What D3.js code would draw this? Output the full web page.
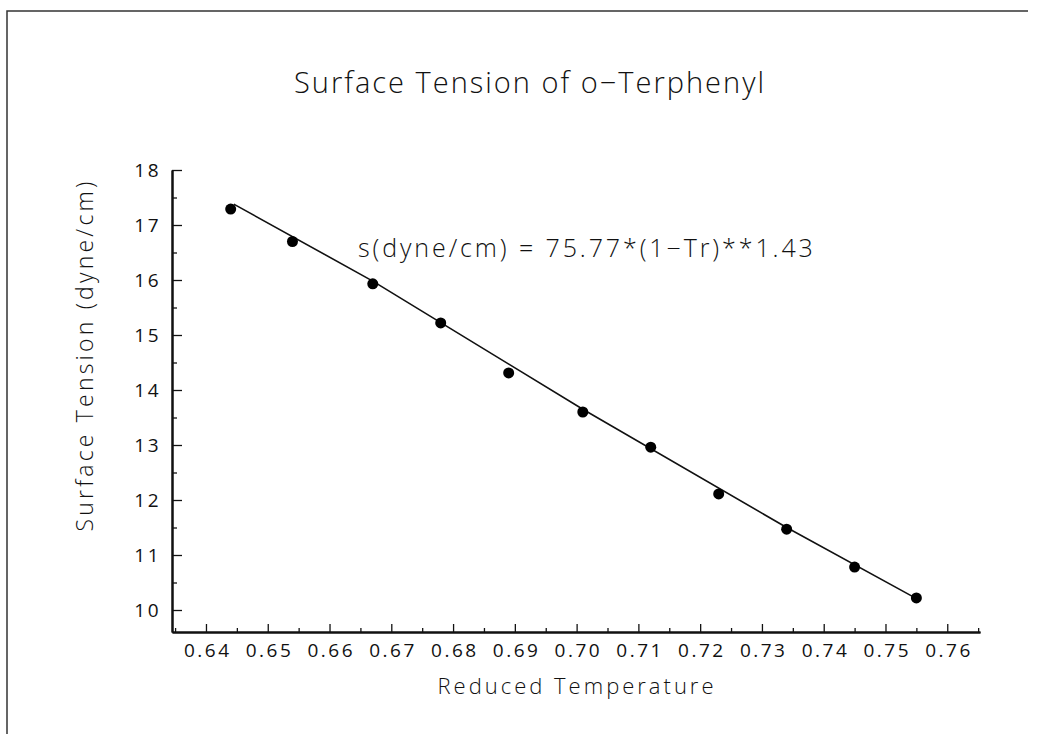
<!DOCTYPE html>
<html>
<head>
<meta charset="utf-8">
<script src="https://cdn.jsdelivr.net/npm/d3@7"></script>
<style>
  body { margin: 0; background: #fff; }
  svg text { font-family: "Open Sans", "DejaVu Sans", sans-serif; font-weight: 300; fill: #111; }
</style>
</head>
<body>
<div id="chart"></div>
<script>
// reduced temperature (Tr) of each measured point
var temps = [0.644, 0.654, 0.667, 0.678, 0.689, 0.701, 0.712, 0.723, 0.734, 0.745, 0.755];
// surface tension, dyne/cm
var tensions = [17.29, 16.70, 15.93, 15.22, 14.31, 13.60, 12.96, 12.11, 11.47, 10.78, 10.22];
// fitted curve
var fitTemps = [0.6445, 0.667, 0.701, 0.734, 0.7548];
var fitTensions = [17.38, 15.98, 13.65, 11.50, 10.22];

var xTicks = [0.64, 0.65, 0.66, 0.67, 0.68, 0.69, 0.70, 0.71, 0.72, 0.73, 0.74, 0.75, 0.76];
var xMinor = [0.635, 0.645, 0.655, 0.665, 0.675, 0.685, 0.695, 0.705, 0.715, 0.725, 0.735, 0.745, 0.755, 0.765];
var yTicks = [10, 11, 12, 13, 14, 15, 16, 17, 18];
var yMinor = [10.5, 11.5, 12.5, 13.5, 14.5, 15.5, 16.5, 17.5];

var title = "Surface Tension of o\u2212Terphenyl";
var xTitle = "Reduced Temperature";
var yTitle = "Surface Tension (dyne/cm)";
var fitNote = "s(dyne/cm) = 75.77*(1\u2212Tr)**1.43";

var W = 1043, H = 734;
var margin = {top: 170, right: 63, bottom: 102, left: 172},
  width = W - margin.left - margin.right,
  height = H - margin.top - margin.bottom;

var svg = d3.select("#chart").append("svg")
  .attr("width", W)
  .attr("height", H);

// page frame (top and left edges only)
svg.append("path")
  .attr("d", "M7,734V11H1028")
  .attr("fill", "none")
  .attr("stroke", "#333")
  .attr("stroke-width", 1.5);

var x = d3.scaleLinear().domain([0.6345, 0.7653]).range([0, width]);
var y = d3.scaleLinear().domain([9.6, 18]).range([height, 0]);

var g = svg.append("g")
  .attr("transform", "translate(" + margin.left + "," + margin.top + ")");

var xAxis = d3.axisBottom(x).tickValues(xTicks).tickFormat(d3.format(".2f"))
  .tickSizeInner(-8).tickSizeOuter(0).tickPadding(12);
var xAxisMinor = d3.axisBottom(x).tickValues(xMinor).tickFormat("")
  .tickSizeInner(-4).tickSizeOuter(0);
var yAxis = d3.axisLeft(y).tickValues(yTicks).tickFormat(d3.format("d"))
  .tickSizeInner(-10).tickSizeOuter(0).tickPadding(11);
var yAxisMinor = d3.axisLeft(y).tickValues(yMinor).tickFormat("")
  .tickSizeInner(-5).tickSizeOuter(0);

g.append("g").attr("transform", "translate(0," + height + ")").call(xAxisMinor);
g.append("g").attr("class", "axis axis--x")
  .attr("transform", "translate(0," + height + ")")
  .call(xAxis);
g.append("g").call(yAxisMinor);
g.append("g").attr("class", "axis axis--y").call(yAxis);

g.selectAll(".domain").attr("stroke", "#111").attr("stroke-width", 2);
g.selectAll(".tick line").attr("stroke", "#111").attr("stroke-width", 1.3);
g.selectAll(".tick text")
  .attr("font-size", 19)
  .attr("letter-spacing", 2.5)
  .style("font-weight", 400);
// letter-spacing adds a trailing gap, shift centred labels to compensate
g.selectAll(".axis--x .tick text").attr("dx", 1.25);

// fitted curve
var line = d3.line()
  .x(function (d, i) { return x(fitTemps[i]); })
  .y(function (d) { return y(d); });

g.append("path")
  .datum(fitTensions)
  .attr("fill", "none")
  .attr("stroke", "#111")
  .attr("stroke-width", 1.6)
  .attr("d", line);

g.selectAll(".dot")
  .data(tensions)
  .enter().append("circle")
  .attr("class", "dot")
  .attr("cx", function (d, i) { return x(temps[i]); })
  .attr("cy", function (d) { return y(d); })
  .attr("r", 5.5)
  .attr("fill", "#000");

// fit equation
g.append("text")
  .attr("x", x(0.6646))
  .attr("y", y(16.42))
  .attr("font-size", 25)
  .attr("letter-spacing", 2.9)
  .text(fitNote);

svg.append("text")
  .attr("x", 530)
  .attr("y", 93)
  .attr("text-anchor", "middle")
  .attr("font-size", 29)
  .attr("letter-spacing", 2)
  .text(title);

svg.append("text")
  .attr("x", 577)
  .attr("y", 694)
  .attr("text-anchor", "middle")
  .attr("font-size", 22)
  .attr("letter-spacing", 3)
  .text(xTitle);

svg.append("text")
  .attr("transform", "translate(93," + 355 + ") rotate(-90)")
  .attr("text-anchor", "middle")
  .attr("font-size", 23)
  .attr("letter-spacing", 3.2)
  .text(yTitle);
</script>
</body>
</html>
